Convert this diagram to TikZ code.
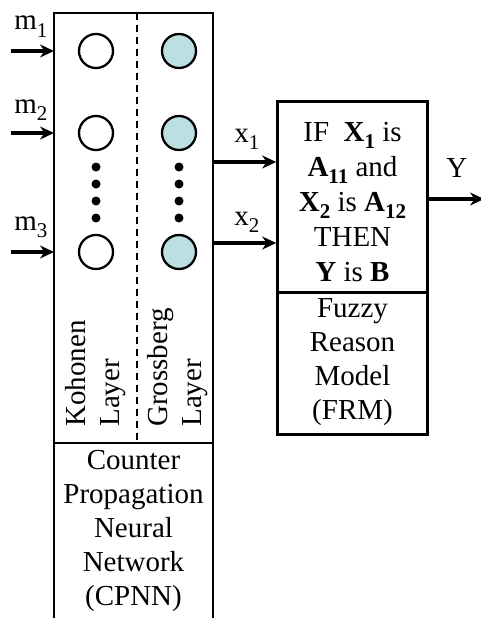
\documentclass[tikz,border=0pt]{standalone}
\usepackage{fontspec}
\setmainfont{Liberation Serif}
\usetikzlibrary{arrows.meta}
\definecolor{nodefill}{RGB}{188,224,226}
\newcommand\sbs[1]{\raisebox{-7.5pt}{\fontsize{21}{21}\selectfont #1}}
\begin{document}
\begin{tikzpicture}[x=1pt,y=-1pt,line width=2.6pt,
  neuron/.style={circle,draw,line width=2.3pt,minimum size=34pt,inner sep=0pt},
  gneuron/.style={neuron,fill=nodefill},
  dotn/.style={circle,fill=black,inner sep=0pt,minimum size=9pt},
  arr/.style={-{Stealth[length=14pt,width=13pt]},line width=3.4pt},
  txt/.style={font=\fontsize{29}{34}\selectfont,align=center,inner sep=0pt},
  boxn/.style={draw,line width=2.6pt,inner sep=0pt,minimum width=150pt}
]
\useasboundingbox (0,0) rectangle (481,618);
% left box (open at bottom)
\coordinate (cpTL) at (54,13);
\coordinate (cpTR) at (213,13);
\coordinate (cpBL) at (54,622);
\coordinate (cpBR) at (213,622);
\coordinate (divL) at (54,443);
\coordinate (divR) at (213,443);
\coordinate (dashT) at (137,13);
\coordinate (dashB) at (137,443);
\draw (cpBL) -- (cpTL) -- (cpTR) -- (cpBR);
\draw (divL) -- (divR);
\draw[line width=2.2pt,dash pattern=on 7pt off 5pt] (dashT) -- (dashB);
% neurons
\node[neuron] (k1) at (96,51) {};
\node[neuron] (k2) at (96,133) {};
\node[neuron] (k3) at (96,252) {};
\node[gneuron] (g1) at (179,51) {};
\node[gneuron] (g2) at (179,133) {};
\node[gneuron] (g3) at (179,252) {};
\foreach \i/\y in {1/167,2/184,3/201,4/218}{
  \node[dotn] (kd\i) at (96,\y) {};
  \node[dotn] (gd\i) at (179,\y) {};
}
% inputs
\coordinate (m1s) at (11,51);
\coordinate (m2s) at (11,133);
\coordinate (m3s) at (11,252);
\draw[arr] (m1s) -- (k1 -| cpTL);
\draw[arr] (m2s) -- (k2 -| cpTL);
\draw[arr] (m3s) -- (k3 -| cpTL);
\node[txt,anchor=base west] (m1l) at (13,30) {m\sbs{1}};
\node[txt,anchor=base west] (m2l) at (13,113) {m\sbs{2}};
\node[txt,anchor=base west] (m3l) at (13,230) {m\sbs{3}};
% layer labels
\node[txt,align=left,rotate=90,anchor=west] (kl) at (95.5,428) {Kohonen\\Layer};
\node[txt,align=left,rotate=90,anchor=west] (gl) at (177.5,428) {Grossberg\\Layer};
% CPNN label
\node[txt] (cpl) at (133.5,531) {Counter\\Propagation\\Neural\\Network\\(CPNN)};
% right box
\node[boxn,minimum height=191pt] (rule) at (352.5,197) {};
\node[boxn,minimum height=142pt] (frm) at (352.5,363.5) {};
\node[txt,font=\fontsize{29}{35}\selectfont] (rulel) at (352.5,202) {IF~~\textbf{X\sbs{1}} is\\\textbf{A\sbs{11}} and\\\textbf{X\sbs{2}} is \textbf{A\sbs{12}}\\THEN\\\textbf{Y} is \textbf{B}};
\node[txt] (frml) at (352.5,362) {Fuzzy\\Reason\\Model\\(FRM)};
% x arrows
\coordinate (x1s) at (213,162);
\coordinate (x2s) at (213,243);
\draw[arr] (x1s) -- (x1s -| rule.west);
\draw[arr] (x2s) -- (x2s -| rule.west);
\node[txt,anchor=base west] (x1l) at (233,142) {x\sbs{1}};
\node[txt,anchor=base west] (x2l) at (233,225) {x\sbs{2}};
% output
\coordinate (ye) at (484,199);
\draw[arr] (rule.east |- ye) -- (ye);
\node[txt,anchor=base west] (yl) at (445,177) {Y};
\end{tikzpicture}
\end{document}
